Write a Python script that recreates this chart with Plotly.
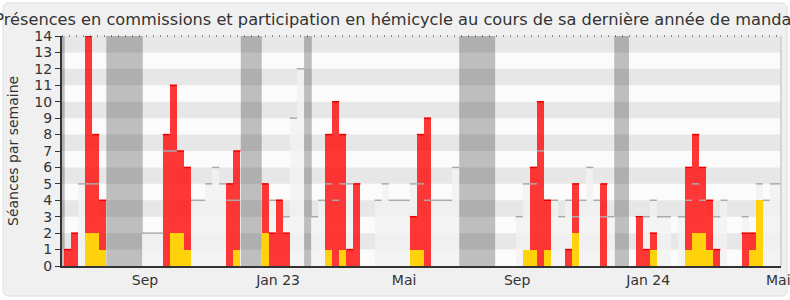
import plotly.graph_objects as go

# ---- data (one entry per week) ----
weeks = list(range(102))
presences = [1, 2, 0, 14, 8, 4, 0, 0, 0, 0,
             0, 0, 0, 0, 8, 11, 7, 6, 0, 0,
             0, 0, 0, 5, 7, 0, 0, 0, 5, 2,
             4, 2, 0, 0, 0, 0, 0, 8, 10, 8,
             1, 5, 0, 0, 0, 0, 0, 0, 0, 3,
             8, 9, 0, 0, 0, 0, 0, 0, 0, 0,
             0, 0, 0, 0, 0, 0, 6, 10, 4, 0,
             0, 1, 5, 0, 0, 0, 5, 0, 0, 0,
             0, 3, 1, 2, 0, 0, 0, 0, 6, 8,
             6, 4, 1, 0, 0, 0, 2, 2, 0, 0,
             0, 0]
participations = [0, 0, 0, 2, 2, 1, 0, 0, 0, 0,
                  0, 0, 0, 0, 0, 2, 2, 1, 0, 0,
                  0, 0, 0, 0, 1, 0, 0, 0, 2, 0,
                  0, 0, 0, 0, 0, 0, 0, 1, 0, 1,
                  0, 0, 0, 0, 0, 0, 0, 0, 0, 1,
                  1, 0, 0, 0, 0, 0, 0, 0, 0, 0,
                  0, 0, 0, 0, 0, 1, 1, 0, 1, 0,
                  0, 0, 2, 0, 0, 0, 0, 0, 0, 0,
                  0, 0, 0, 1, 0, 0, 0, 0, 1, 2,
                  2, 1, 0, 0, 0, 0, 0, 1, 4, 0,
                  0, 0]
mediane = [0, 0, 5, 5, 5, 0, 0, 0, 0, 0,
           0, 2, 2, 2, 7, 7, 0, 0, 4, 4,
           5, 6, 5, 4, 4, 0, 0, 0, 0, 4,
           4, 3, 9, 12, 0, 3, 4, 5, 4, 5,
           5, 0, 0, 0, 4, 5, 4, 4, 4, 5,
           5, 4, 4, 4, 4, 6, 0, 0, 0, 0,
           0, 0, 0, 0, 3, 5, 5, 7, 4, 4,
           3, 4, 3, 4, 6, 4, 3, 3, 0, 0,
           0, 3, 3, 4, 3, 3, 0, 3, 4, 5,
           4, 0, 3, 4, 0, 0, 3, 0, 5, 4,
           5, 5]
vacances_debut = [-0.4, 6.0, 25.05, 34.02, 56.0, 77.96]
vacances_fin = [0.1, 11.16, 28.02, 35.11, 61.09, 80.05]
tick_pos = [11.48, 30.33, 48.19, 64.21, 82.78, 101.2]
tick_labels = ["Sep", "Jan 23", "Mai", "Sep", "Jan 24", "Mai"]

TITLE = ("Présences en commissions et participation en hémicycle "
         "au cours de sa dernière année de mandat")
FONT = "DejaVu Sans"

W, H = 790, 300
L, R, T, B = 62, 9, 36, 34
PW, PH = W - L - R, H - T - B


def px_x(px):
    return (px - L) / PW


def px_y(py):
    return (H - B - py) / PH


def tops(vals):
    xs, ys = [], []
    for w, v in zip(weeks, vals):
        if v > 0:
            xs += [w, w + 1, None]
            ys += [v, v, None]
    return xs, ys


centers = [w + 0.5 for w in weeks]
fig = go.Figure()

fig.add_trace(go.Bar(x=centers, y=mediane, width=1,
                     marker=dict(color="rgba(243,243,243,0.8)", line=dict(width=0)),
                     hoverinfo="skip"))
mx, my = tops(mediane)
fig.add_trace(go.Scatter(x=mx, y=my, mode="lines",
                         line=dict(color="#aaaaaa", width=1.5), hoverinfo="skip"))
fig.add_trace(go.Bar(x=centers, y=presences, width=1,
                     marker=dict(color="rgba(255,0,0,0.78)", line=dict(width=0)),
                     hoverinfo="skip"))
rx, ry = tops(presences)
fig.add_trace(go.Scatter(x=rx, y=ry, mode="lines",
                         line=dict(color="#ee0000", width=1.5), hoverinfo="skip"))
fig.add_trace(go.Bar(x=centers, y=participations, width=1,
                     marker=dict(color="rgb(255,210,12)", line=dict(width=0)),
                     hoverinfo="skip"))

shapes = []
# outer rounded panel
x0, x1 = px_x(3), px_x(787)
y0, y1 = px_y(296), px_y(3)
rx_, ry_ = 6 / PW, 6 / PH
path = (f"M {x0+rx_},{y1} L {x1-rx_},{y1} Q {x1},{y1} {x1},{y1-ry_} "
        f"L {x1},{y0+ry_} Q {x1},{y0} {x1-rx_},{y0} L {x0+rx_},{y0} "
        f"Q {x0},{y0} {x0},{y0+ry_} L {x0},{y1-ry_} Q {x0},{y1} {x0+rx_},{y1} Z")
shapes.append(dict(type="path", path=path, xref="paper", yref="paper",
                   fillcolor="#f0f0f0", line=dict(color="#dedede", width=1),
                   layer="below"))
# plot area background
shapes.append(dict(type="rect", xref="paper", yref="paper", x0=0, x1=1, y0=0, y1=1,
                   fillcolor="#fbfbfb", line=dict(width=0), layer="below"))
# vacation bands
for a, b in zip(vacances_debut, vacances_fin):
    shapes.append(dict(type="rect", xref="x", yref="paper", x0=max(a, -0.28), x1=b,
                       y0=0, y1=1, fillcolor="#bebebe", line=dict(width=0),
                       layer="below"))
# horizontal stripes
for k in range(1, 14, 2):
    shapes.append(dict(type="rect", xref="paper", yref="y", x0=0, x1=1,
                       y0=k, y1=k + 1, fillcolor="rgba(0,0,0,0.08)",
                       line=dict(width=0), layer="below"))
# top dotted border and right border
shapes.append(dict(type="line", xref="paper", yref="paper", x0=0, x1=1, y0=1, y1=1,
                   line=dict(color="#222222", width=1, dash="1px,6px")))
shapes.append(dict(type="line", xref="paper", yref="paper", x0=1, x1=1, y0=0, y1=1,
                   line=dict(color="#cccccc", width=1.5)))

fig.update_layout(
    width=W, height=H,
    margin=dict(l=L, r=R, t=T, b=B, pad=0, autoexpand=False),
    paper_bgcolor="white",
    plot_bgcolor="#fbfbfb",
    barmode="overlay", bargap=0,
    showlegend=False,
    shapes=shapes,
    font=dict(family=FONT, color="#333333", size=14),
    title=dict(text=TITLE, x=396 / W, xanchor="center", y=1 - 19 / H, yanchor="middle",
               font=dict(family=FONT, size=16.2, color="#333333")),
    annotations=[dict(text="Séances par semaine", textangle=-90,
                      xref="paper", yref="paper", x=px_x(13), y=0.5,
                      xanchor="center", yanchor="middle", showarrow=False,
                      font=dict(family=FONT, size=14, color="#333333"))],
)
fig.update_xaxes(range=[-0.28, 101.59], tickvals=tick_pos, ticktext=tick_labels,
                 showgrid=False, zeroline=False, showline=True, linecolor="#333333",
                 linewidth=2, ticks="", ticklabeloverflow="allow", automargin=False,
                 tickfont=dict(size=14, color="#333333"))
fig.update_yaxes(range=[0, 14], dtick=1, tick0=0, showgrid=False, zeroline=False,
                 showline=True, linecolor="#333333", linewidth=2, ticks="outside",
                 ticklen=5, tickcolor="#333333", tickwidth=1, automargin=False,
                 tickfont=dict(size=14, color="#333333"))

fig.write_html("out.html")
